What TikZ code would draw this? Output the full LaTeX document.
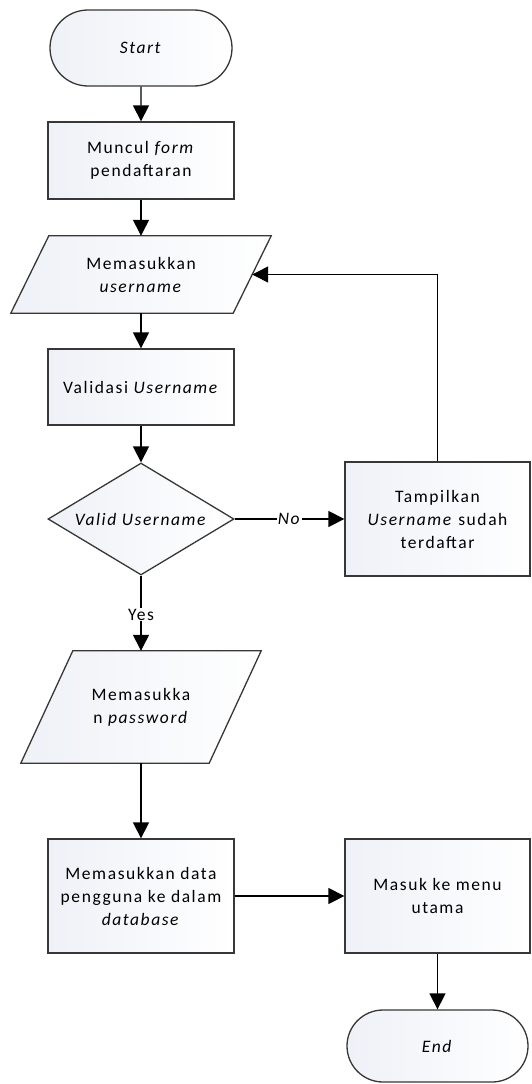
\documentclass[tikz,border=0pt]{standalone}
\usepackage{fontspec}
\setmainfont{Carlito}[LetterSpace=9]
\usetikzlibrary{shapes.misc,shapes.geometric,arrows.meta}
\pgfdeclarelayer{background}
\pgfsetlayers{background,main}
\definecolor{boxfill}{RGB}{238,241,247}
\definecolor{edgecol}{RGB}{55,55,55}
\tikzset{
  base/.style={draw=edgecol, line width=1.3pt, left color=boxfill, right color=white, align=center, inner sep=2pt, font=\fontsize{17.5}{23}\selectfont},
  procbox/.style={base, rectangle},
  termbox/.style={base, rounded rectangle, minimum width=186pt, minimum height=76pt},
  decbox/.style={base, diamond, aspect=1.66, inner sep=0pt, minimum width=186pt, minimum height=112pt},
  iotext/.style={rectangle, align=center, inner sep=0pt, font=\fontsize{17.5}{23}\selectfont},
  ioshape/.style={draw=edgecol, line width=1.3pt, left color=boxfill, right color=white},
  arr/.style={draw=black, line width=1.3pt, -{Triangle[length=16pt,width=16pt]}},
  lbl/.style={fill=white, inner sep=1pt, font=\fontsize{17.5}{23}\selectfont},
}
\begin{document}
\begin{tikzpicture}[x=1pt,y=-1pt]
\useasboundingbox (0,0) rectangle (531,1084);
\node[termbox] (start) at (141,48) {\textit{Start}};
\node[procbox, minimum width=186pt, minimum height=77pt] (form) at (141,160.5) {Muncul \textit{form}\\pendaftaran};
\node[iotext, minimum width=222pt, minimum height=77pt] (user) at (141,274.5) {Memasukkan\\\textit{username}};
\node[procbox, minimum width=186pt, minimum height=76pt] (valid) at (141,387) {Validasi \textit{Username}};
\node[decbox] (dec) at (141,519) {\textit{Valid Username}};
\node[procbox, minimum width=185pt, minimum height=114pt] (tamp) at (437.5,519) {Tampilkan\\\textit{Username} sudah\\terdaftar};
\node[iotext, minimum width=188pt, minimum height=112pt] (pw) at (141,707) {Memasukka\\n \textit{password}};
\node[procbox, minimum width=186pt, minimum height=114pt] (data) at (141,896) {Memasukkan data\\pengguna ke dalam\\\textit{database}};
\node[procbox, minimum width=185pt, minimum height=114pt] (menu) at (437.5,896) {Masuk ke menu\\utama};
\node[termbox, minimum width=185pt, minimum height=72pt] (end) at (437.5,1046) {\textit{End}};
\begin{pgfonlayer}{background}
\path[ioshape] ([xshift=19pt]user.north west) -- ([xshift=19pt]user.north east) -- ([xshift=-19pt]user.south east) -- ([xshift=-19pt]user.south west) -- cycle;
\path[ioshape] ([xshift=26pt]pw.north west) -- ([xshift=26pt]pw.north east) -- ([xshift=-26pt]pw.south east) -- ([xshift=-26pt]pw.south west) -- cycle;
\end{pgfonlayer}
\draw[arr] (start) -- (form);
\draw[arr] (form) -- (user);
\draw[arr] (user) -- (valid);
\draw[arr] (valid) -- (dec);
\draw[arr] (dec) -- node[lbl, pos=0.5] {\textit{No}} (tamp);
\draw[arr] (tamp.north) |- (user.east);
\draw[arr] (dec) -- node[lbl, pos=0.52] {Yes} (pw);
\draw[arr] (pw) -- (data);
\draw[arr] (data) -- (menu);
\draw[arr] (menu) -- (end);
\end{tikzpicture}
\end{document}
